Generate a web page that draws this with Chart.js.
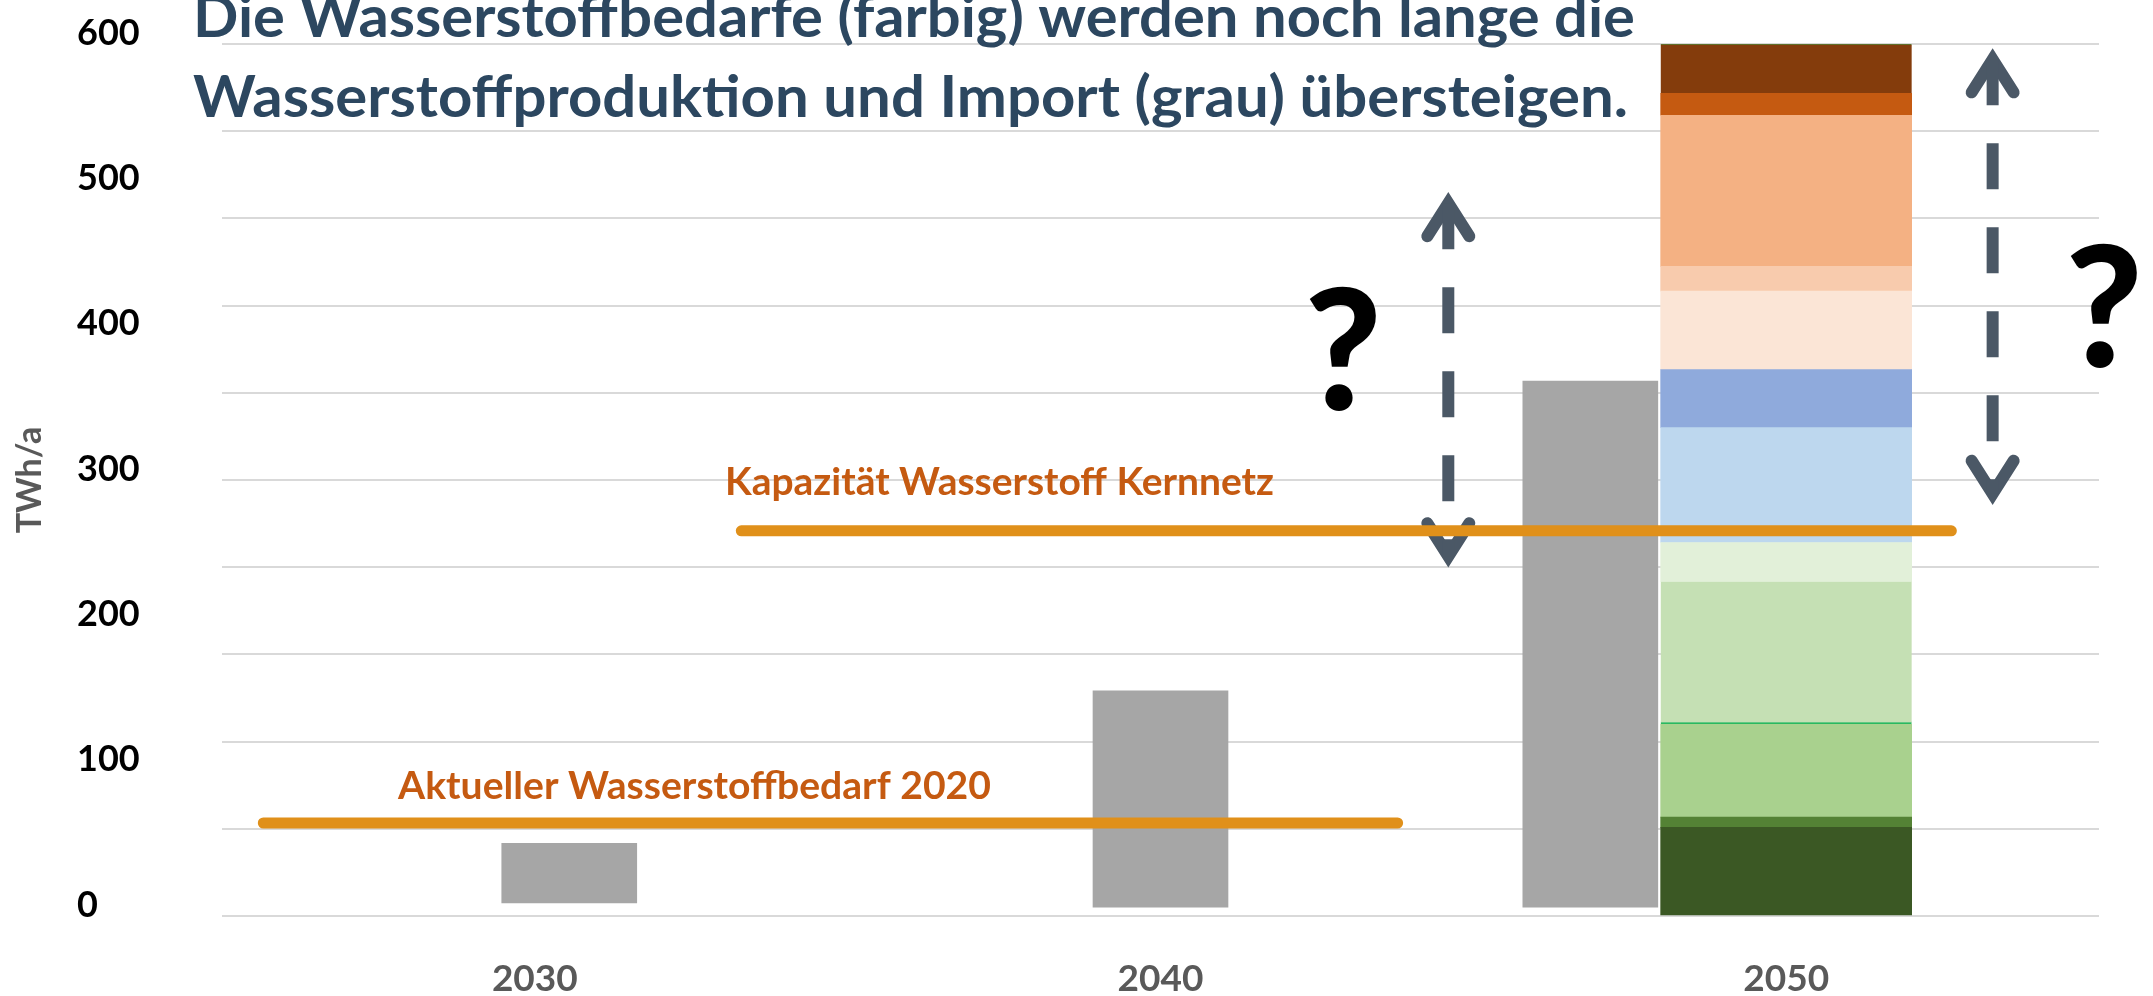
<!DOCTYPE html>
<html lang="de">
<head>
<meta charset="utf-8">
<title>Wasserstoffbedarf vs. Produktion und Import</title>
<script src="https://cdn.jsdelivr.net/npm/chart.js@4.4.1/dist/chart.umd.min.js"></script>
<style>
    html, body { margin: 0; padding: 0; background: #fff; }
    #wrap { width: 2153px; height: 996px; position: relative; }
</style>
</head>
<body>
<div id="wrap"><canvas id="h2Chart"></canvas></div>
<script>
// Categories and tick labels
const years = ['2030', '2040', '2050'];
const yTickLabels = [0, 100, 200, 300, 400, 500, 600];
const yGridValues = [0, 60, 120, 180, 240, 300, 360, 420, 480, 540, 600];

// Produktion und Import (grau), floating bars in TWh/a
const supplyFrom = [9, 6, 6];
const supplyTo = [50, 155, 368];

// Wasserstoffbedarf 2050 (farbig), bottom to top
const demand2050 = [61, 7, 64, 98, 27, 79, 40, 54, 17, 104, 15, 34];

// Reference levels
const currentDemand2020 = 64;
const coreNetCapacity = 265;

// ---- styling / layout ----
const ORANGE_LINE = '#E0901A';
const ORANGE_TEXT = '#C55A11';
const ARROW = '#4B5866';
const TITLE = '#2C4760';

const demandColors = [
    '#3B5824', '#548235', '#A9D18E', '#C5E0B4', '#E2F0D9', '#BDD7EE',
    '#8FAADC', '#FBE5D6', '#F8CBAD', '#F4B183', '#C55A11', '#843C0C'
];

// grey bars are drawn a little beside their year (2050 sits left of the stack)
const supplyShift = [0.55, 0, -3.13];

Chart.defaults.font.family = "Lato, 'Open Sans', sans-serif";

/**
 * Draw text with a fixed cap size, squeezed to a given width
 */
function drawText(ctx, text, x, y, size, color, width, weight = 'bold', align = 'left') {
    ctx.save();
    ctx.font = `${weight} ${size}px Lato, 'Open Sans', sans-serif`;
    ctx.fillStyle = color;
    ctx.textBaseline = 'alphabetic';
    ctx.textAlign = align;
    const w = ctx.measureText(text).width;
    ctx.translate(x, y);
    if (width) ctx.scale(width / w, 1);
    ctx.fillText(text, 0, 0);
    ctx.restore();
}

/**
 * Dashed double arrow between two values of the y scale
 */
function drawArrow(ctx, x, yTop, yBottom) {
    const tipInset = 11, headLen = 44, headHalf = 21;
    ctx.save();
    ctx.strokeStyle = ARROW;
    ctx.lineWidth = 12;
    ctx.lineJoin = 'miter';
    ctx.lineCap = 'round';

    ctx.beginPath();
    ctx.moveTo(x - headHalf, yTop + headLen);
    ctx.lineTo(x, yTop + tipInset);
    ctx.lineTo(x + headHalf, yTop + headLen);
    ctx.stroke();

    ctx.beginPath();
    ctx.moveTo(x - headHalf, yBottom - headLen);
    ctx.lineTo(x, yBottom - tipInset);
    ctx.lineTo(x + headHalf, yBottom - headLen);
    ctx.stroke();

    ctx.lineCap = 'butt';
    ctx.setLineDash([46, 38]);
    ctx.beginPath();
    ctx.moveTo(x, yTop + tipInset);
    ctx.lineTo(x, yBottom - tipInset);
    ctx.stroke();
    ctx.restore();
}

const annotationPlugin = {
    id: 'annotations',
    beforeDatasetsDraw(chart) {
        const { ctx } = chart;
        const xs = chart.scales.xs;
        const y = chart.scales.y;
        drawArrow(ctx, xs.getPixelForValue(2044.6), y.getPixelForValue(498), y.getPixelForValue(240));
        drawArrow(ctx, xs.getPixelForValue(2053.3), y.getPixelForValue(597), y.getPixelForValue(283));
    },
    afterDatasetsDraw(chart) {
        const { ctx } = chart;
        drawText(ctx, 'Die Wasserstoffbedarfe (farbig) werden noch lange die', 193, 37, 58, TITLE, 1442);
        drawText(ctx, 'Wasserstoffproduktion und Import (grau) übersteigen.', 193, 117, 58, TITLE, 1435);
        drawText(ctx, 'Aktueller Wasserstoffbedarf 2020', 398, 799, 38, ORANGE_TEXT, 593);
        drawText(ctx, 'Kapazität Wasserstoff Kernnetz', 725, 495, 38, ORANGE_TEXT, 549);
        drawText(ctx, '?', 1343, 410, 167, '#000', null, '900', 'center');
        drawText(ctx, '?', 2104, 367, 167, '#000', null, '900', 'center');
    }
};

const supplyDataset = {
    label: 'Produktion und Import',
    xAxisID: 'xs',
    stack: 'supply',
    data: years.map((yr, i) => ({ x: Number(yr) + supplyShift[i], y: [supplyFrom[i], supplyTo[i]] })),
    backgroundColor: '#A6A6A6',
    grouped: false,
    barPercentage: 1,
    categoryPercentage: 1,
    maxBarThickness: 135,
    order: 2
};

const demandDatasets = demand2050.map((value, i) => {
    const ds = {
        label: 'Bedarf ' + (i + 1),
        xAxisID: 'x',
        stack: 'demand',
        data: years.map(yr => (yr === '2050' ? value : null)),
        backgroundColor: demandColors[i],
        grouped: false,
        barPercentage: 1,
        categoryPercentage: 1,
        maxBarThickness: 251,
        borderWidth: 0,
        order: 2
    };
    if (i === 3) {
        ds.borderColor = '#00B050';
        ds.borderWidth = { top: 0, right: 0, bottom: 2, left: 0 };
        ds.borderSkipped = false;
    }
    if (i === demand2050.length - 1) {
        ds.borderColor = '#548235';
        ds.borderWidth = { top: 1, right: 0, bottom: 0, left: 0 };
    }
    return ds;
});

function refLine(label, value, from, to) {
    return {
        type: 'line',
        label,
        xAxisID: 'xs',
        stack: label,
        data: [{ x: from, y: value }, { x: to, y: value }],
        borderColor: ORANGE_LINE,
        borderWidth: 11,
        borderCapStyle: 'round',
        pointRadius: 0,
        fill: false,
        clip: false,
        order: 0
    };
}

new Chart(document.getElementById('h2Chart'), {
    type: 'bar',
    data: {
        labels: years,
        datasets: [
            supplyDataset,
            ...demandDatasets,
            refLine('Aktueller Wasserstoffbedarf 2020', currentDemand2020, 2025.66, 2043.79),
            refLine('Kapazität Wasserstoff Kernnetz', coreNetCapacity, 2033.3, 2052.64)
        ]
    },
    options: {
        responsive: true,
        maintainAspectRatio: false,
        animation: false,
        layout: { padding: { left: 77, right: 54, top: 44, bottom: 0 } },
        plugins: {
            legend: { display: false },
            tooltip: { enabled: false }
        },
        scales: {
            x: {
                type: 'category',
                offset: true,
                grid: { display: false },
                border: { display: false },
                ticks: {
                    color: '#595959',
                    padding: 33,
                    font: { size: 37, weight: 'bold' }
                },
                afterFit(scale) { scale.height = 80; }
            },
            xs: {
                type: 'linear',
                display: false,
                offset: false,
                min: 2025,
                max: 2055
            },
            y: {
                stacked: true,
                min: 0,
                max: 600,
                afterBuildTicks(axis) {
                    const vals = Array.from(new Set([...yGridValues, ...yTickLabels])).sort((a, b) => a - b);
                    axis.ticks = vals.map(v => ({ value: v }));
                },
                grid: {
                    color: ctx => (ctx.tick && yGridValues.includes(ctx.tick.value) ? '#D9D9D9' : 'rgba(0,0,0,0)'),
                    lineWidth: 2,
                    drawTicks: false
                },
                border: { display: false },
                ticks: {
                    autoSkip: false,
                    crossAlign: 'far',
                    labelOffset: -11,
                    color: '#000',
                    font: { size: 36, weight: 'bold' },
                    callback: v => (yTickLabels.includes(v) ? v : '')
                },
                title: {
                    display: true,
                    text: 'TWh/a',
                    color: '#595959',
                    font: { size: 34, weight: 'bold' },
                    padding: { top: -67, bottom: 0 }
                },
                afterFit(scale) { scale.width = 145; }
            }
        }
    },
    plugins: [annotationPlugin]
});
</script>
</body>
</html>
